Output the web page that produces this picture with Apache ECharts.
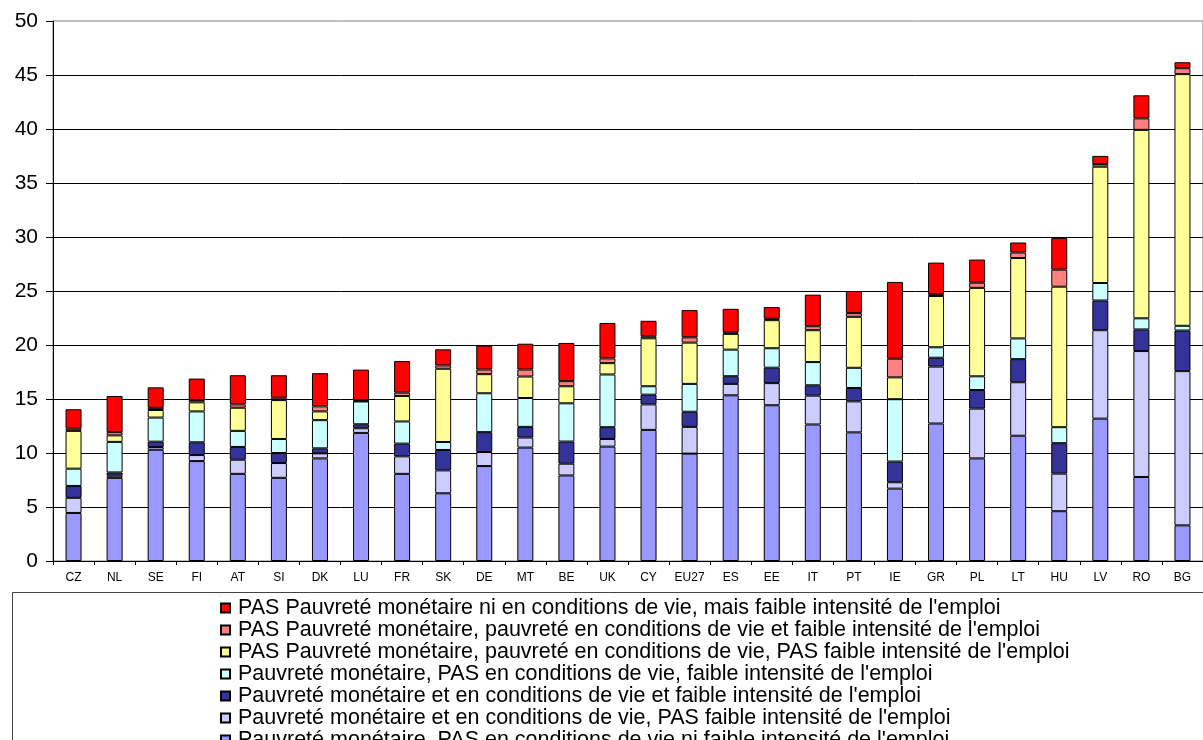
<!DOCTYPE html>
<html>
<head>
<meta charset="utf-8">
<script src="https://cdn.jsdelivr.net/npm/echarts@6/dist/echarts.min.js"></script>
<style>
html,body{margin:0;padding:0;background:#fff;}
#chart{width:1203px;height:740px;}
</style>
</head>
<body>
<div id="chart"></div>
<script>
const categories = ['CZ','NL','SE','FI','AT','SI','DK','LU','FR','SK','DE','MT','BE','UK','CY','EU27','ES','EE','IT','PT','IE','GR','PL','LT','HU','LV','RO','BG'];
const yTicks = [0,5,10,15,20,25,30,35,40,45,50];

const seriesNames = [
  "Pauvreté monétaire, PAS en conditions de vie ni faible intensité de l'emploi",
  "Pauvreté monétaire et en conditions de vie, PAS faible intensité de l'emploi",
  "Pauvreté monétaire et en conditions de vie et faible intensité de l'emploi",
  "Pauvreté monétaire, PAS en conditions de vie, faible intensité de l'emploi",
  "PAS Pauvreté monétaire, pauvreté en conditions de vie, PAS faible intensité de l'emploi",
  "PAS Pauvreté monétaire, pauvreté en conditions de vie et faible intensité de l'emploi",
  "PAS Pauvreté monétaire ni en conditions de vie, mais faible intensité de l'emploi"
];
const seriesColors = ['#9999FF','#CCCCFF','#333399','#CCFFFF','#FFFF99','#FF8080','#FF0000'];

const monetaireSeul = [4.45,7.7,10.3,9.25,8.07,7.7,9.5,11.86,8.07,6.27,8.79,10.5,7.92,10.59,12.14,9.94,15.34,14.42,12.64,11.91,6.7,12.73,9.5,11.6,4.61,13.18,7.78,3.3];
const monetaireVie = [1.4,0.2,0.25,0.56,1.31,1.37,0.47,0.43,1.62,2.12,1.3,0.93,1.09,0.71,2.36,2.48,1.06,2.05,2.67,2.87,0.59,5.27,4.61,4.95,3.48,8.19,11.66,14.28];
const monetaireVieEmploi = [1.1,0.3,0.5,1.18,1.18,0.93,0.46,0.37,1.18,1.89,1.84,0.99,2.05,1.09,0.9,1.4,0.71,1.43,0.96,1.24,1.92,0.82,1.72,2.14,2.82,2.75,2.0,3.76];
const monetaireEmploi = [1.6,2.83,2.23,2.86,1.49,1.3,2.61,2.11,2.05,0.74,3.6,2.67,3.54,4.88,0.78,2.58,2.46,1.8,2.15,1.87,5.77,0.97,1.27,1.92,1.48,1.62,1.03,0.44];
const vieSeul = [3.5,0.6,0.7,0.84,2.14,3.6,0.81,0.06,2.36,6.78,1.77,1.99,1.58,1.05,4.44,3.82,1.46,2.6,2.95,4.72,2.02,4.75,8.19,7.44,13.01,10.77,17.45,23.3];
const vieEmploi = [0.2,0.3,0.2,0.22,0.31,0.22,0.47,0.06,0.31,0.31,0.43,0.65,0.47,0.44,0.19,0.49,0.15,0.13,0.37,0.34,1.73,0.17,0.48,0.51,1.58,0.24,1.06,0.55];
const emploiSeul = [1.8,3.35,1.9,1.98,2.7,2.08,3.07,2.83,2.92,1.49,2.21,2.39,3.54,3.28,1.43,2.52,2.17,1.08,2.92,2.05,7.11,2.92,2.14,0.93,2.92,0.76,2.14,0.55];

const seriesData = [monetaireSeul, monetaireVie, monetaireVieEmploi, monetaireEmploi, vieSeul, vieEmploi, emploiSeul];

const chart = echarts.init(document.getElementById('chart'), null, {renderer:'canvas'});
const FONT = 'Liberation Sans, Arial, sans-serif';

chart.setOption({
  animation: false,
  backgroundColor: '#ffffff',
  textStyle: {fontFamily: FONT, color: '#000'},
  grid: {left: 53, top: 21, width: 1157, height: 540, show: true, borderColor: '#808080', borderWidth: 1, backgroundColor: 'transparent', containLabel: false},
  xAxis: {
    type: 'category',
    data: categories,
    axisLine: {lineStyle: {color: '#000', width: 1}},
    axisTick: {show: true, alignWithLabel: false, length: 4, lineStyle: {color: '#000'}},
    axisLabel: {fontSize: 12, color: '#000', margin: 11, fontFamily: FONT, interval: 0}
  },
  yAxis: {
    type: 'value',
    min: yTicks[0],
    max: yTicks[yTicks.length-1],
    interval: 5,
    axisLine: {show: true, lineStyle: {color: '#000', width: 1}},
    axisTick: {show: true, length: 7, lineStyle: {color: '#000'}},
    axisLabel: {fontSize: 21, color: '#000', margin: 15, fontFamily: FONT},
    splitLine: {show: true, showMaxLine: false, lineStyle: {color: '#000', width: 1}}
  },
  legend: {
    orient: 'vertical',
    left: 215,
    top: 592,
    height: 400,
    data: seriesNames.slice().reverse(),
    icon: 'rect',
    itemWidth: 9,
    itemHeight: 9,
    itemGap: 0,
    textStyle: {fontSize: 21.5, color: '#000', fontFamily: FONT, lineHeight: 22, padding: [0,0,0,3]}
  },
  graphic: [{
    type: 'rect',
    shape: {x: 12.5, y: 592.5, width: 1200, height: 200},
    style: {fill: 'none', stroke: '#444', lineWidth: 1},
    silent: true,
    z: -1
  }],
  series: seriesNames.map((name, i) => ({
    name: name,
    type: 'bar',
    stack: 'total',
    barWidth: 16,
    data: seriesData[i],
    itemStyle: {color: seriesColors[i], borderColor: '#000', borderWidth: 1}
  }))
});
</script>
</body>
</html>
